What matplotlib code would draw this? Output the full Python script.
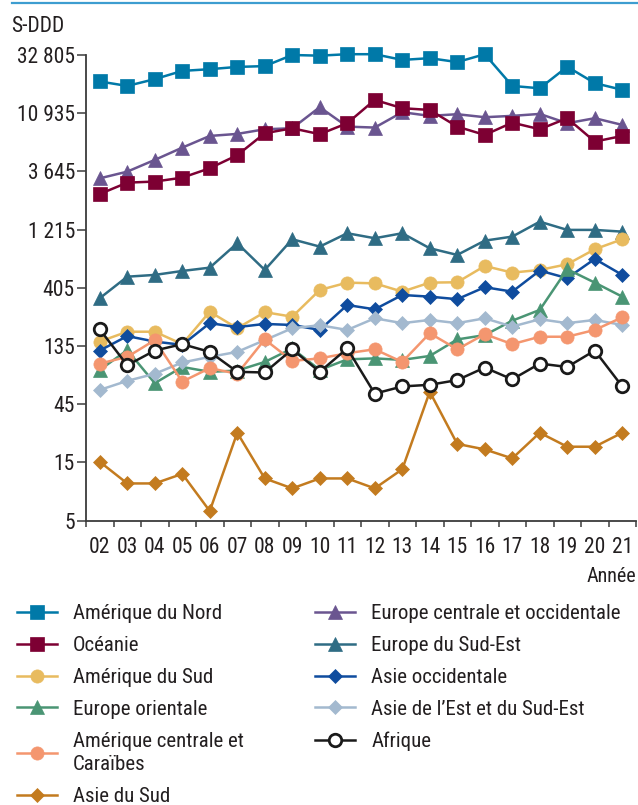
import matplotlib
matplotlib.use("Agg")
import matplotlib.pyplot as plt
from matplotlib.ticker import FixedLocator, NullLocator
import numpy as np

plt.rcParams["font.family"] = ["Roboto Condensed", "DejaVu Sans"]
plt.rcParams["text.color"] = "#231f20"
plt.rcParams["xtick.color"] = "#3c3c3c"
plt.rcParams["ytick.color"] = "#3c3c3c"
plt.rcParams["xtick.labelcolor"] = "#231f20"
plt.rcParams["ytick.labelcolor"] = "#231f20"

years = ["02", "03", "04", "05", "06", "07", "08", "09", "10", "11",
         "12", "13", "14", "15", "16", "17", "18", "19", "20", "21"]

amerique_nord = [19900, 18300, 20800, 24300, 25100, 26200, 26600, 32800, 32400, 33300,
                 33300, 29900, 30900, 28700, 33300, 18300, 17500, 26300, 19300, 17000]
oceanie = [2380, 2950, 3010, 3240, 3870, 4950, 7490, 8230, 7360, 9050,
           14060, 12020, 11630, 8490, 7260, 9150, 8080, 9950, 6400, 7120]
amerique_sud = [147, 177, 177, 140, 258, 189, 256, 235, 389, 447,
                441, 377, 447, 450, 612, 540, 568, 632, 839, 1013]
europe_orientale = [86, 125, 67, 91, 83, 85, 100, 129, 86, 105,
                    107, 104, 112, 153, 166, 218, 267, 576, 447, 343]
amerique_centrale = [97, 110, 151, 69, 89, 80, 153, 102, 107, 118,
                     127, 100, 172, 127, 169, 140, 161, 161, 183, 232]
asie_sud = [15.2, 10.1, 10.1, 12.1, 6.0, 26.3, 11.1, 9.2, 11.1, 11.1,
            9.2, 13.2, 57, 21.3, 19.2, 16.2, 26.3, 20.2, 20.2, 26.3]
europe_centrale_occ = [3200, 3630, 4530, 5710, 7120, 7400, 8080, 8230, 12250, 8490,
                       8340, 11140, 10400, 10730, 10140, 10400, 10790, 9050, 9950, 8770]
europe_sud_est = [333, 500, 517, 557, 593, 940, 568, 1013, 882, 1135,
                  1033, 1135, 855, 754, 987, 1065, 1412, 1209, 1209, 1170]
asie_occ = [124, 163, 147, 138, 208, 193, 205, 201, 183, 293,
            270, 354, 343, 327, 410, 377, 561, 486, 699, 517]
asie_est = [59, 70, 80, 99, 110, 121, 151, 189, 200, 183,
            228, 208, 221, 208, 228, 195, 224, 208, 221, 201]
afrique = [185, 94, 124, 140, 121, 83, 82, 127, 83, 129,
           55, 63, 65, 71, 90, 72, 97, 91, 124, 63]

y_ticks = [5, 15, 45, 135, 405, 1215, 3645, 10935, 32805]
y_tick_labels = ["5", "15", "45", "135", "405", "1 215", "3 645", "10 935", "32 805"]

# (label, values, colour, marker, markersize)
col_left = [
    ("Amérique du Nord", amerique_nord, "#0079a8", "s", 10),
    ("Océanie", oceanie, "#7d0033", "s", 10),
    ("Amérique du Sud", amerique_sud, "#e8bb5f", "o", 9.5),
    ("Europe orientale", europe_orientale, "#4a9574", "^", 10),
    ("Amérique centrale et\nCaraïbes", amerique_centrale, "#f4966f", "o", 9.5),
    ("Asie du Sud", asie_sud, "#c37b1f", "D", 7),
]
col_right = [
    ("Europe centrale et occidentale", europe_centrale_occ, "#6a5590", "^", 10),
    ("Europe du Sud-Est", europe_sud_est, "#2f6c84", "^", 10),
    ("Asie occidentale", asie_occ, "#0f4c9e", "D", 7),
    ("Asie de l\u2019Est et du Sud-Est", asie_est, "#a3b9cf", "D", 7),
    ("Afrique", afrique, "#1a1a1a", "o", 9),
]

fig = plt.figure(figsize=(6.38, 8.05), dpi=100)
W, H = 638, 805
ax = fig.add_axes([86 / W, 1 - 520.7 / H, (636 - 86) / W, (520.7 - 55) / H])

x = np.arange(len(years))
draw_order = [col_right[0], col_left[1], col_left[0], col_right[1], col_left[2],
              col_right[2], col_left[3], col_right[3], col_left[4], col_left[5],
              col_right[4]]
handles = {}
for label, vals, color, mk, ms in draw_order:
    if label == "Afrique":
        ln, = ax.plot(x, vals, color=color, lw=1.8, marker=mk, ms=ms,
                      mfc="white", mec=color, mew=2.0, clip_on=False, zorder=5)
    else:
        ln, = ax.plot(x, vals, color=color, lw=1.8, marker=mk, ms=ms,
                      mfc=color, mec=color, mew=0.5, clip_on=False, zorder=3)
    handles[label] = ln

ax.set_yscale("log")
ax.set_ylim(5, 32805)
ax.set_xlim(-0.5, len(years) - 0.5)
ax.yaxis.set_major_locator(FixedLocator(y_ticks))
ax.yaxis.set_minor_locator(NullLocator())
ax.set_yticklabels(y_tick_labels)
ax.set_xticks(x)
ax.set_xticklabels(years)
ax.xaxis.set_minor_locator(FixedLocator(np.arange(-0.5, len(years), 1.0)))

for side in ("top", "right"):
    ax.spines[side].set_visible(False)
for side in ("left", "bottom"):
    ax.spines[side].set_color("#3c3c3c")
    ax.spines[side].set_linewidth(1.3)

ax.tick_params(axis="y", which="major", length=6.5, width=1.1, pad=1.5, labelsize=15.5)
ax.tick_params(axis="x", which="major", length=0, pad=12, labelsize=15.5)
ax.tick_params(axis="x", which="minor", length=4.5, width=1.1)

fig.text(11 / W, 1 - 26 / H, "S-DDD", fontsize=15.5, va="center", ha="left")
fig.text(636 / W, 1 - 576 / H, "Année", fontsize=14.5, va="center", ha="right")

# rule across the top of the figure
fig.add_artist(plt.Line2D([12 / W, 1.0], [1 - 2.7 / H, 1 - 2.7 / H],
                          color="#3d9dd0", lw=1.6, transform=fig.transFigure))

leg_kw = dict(frameon=False, fontsize=15, handlelength=1.9, handletextpad=0.8,
              labelspacing=0.62, borderpad=0, borderaxespad=0, loc="upper left",
              numpoints=1)
leg1 = fig.legend([handles[c[0]] for c in col_left], [c[0] for c in col_left],
                  bbox_to_anchor=(17 / W, 1 - 604 / H), **leg_kw)
leg2 = fig.legend([handles[c[0]] for c in col_right], [c[0] for c in col_right],
                  bbox_to_anchor=(315 / W, 1 - 604 / H), **leg_kw)
for leg in (leg1, leg2):
    for t in leg.get_texts():
        t.set_linespacing(1.32)

fig.savefig("out.png", dpi=100)
